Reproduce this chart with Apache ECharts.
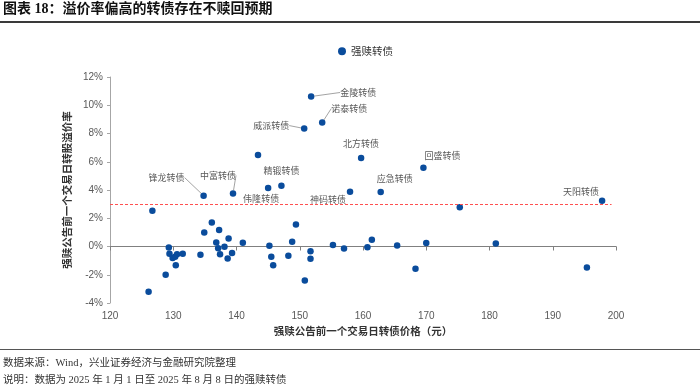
<!DOCTYPE html>
<html><head><meta charset="utf-8">
<script src="https://cdn.jsdelivr.net/npm/echarts@6/dist/echarts.min.js"></script>
<style>html,body{margin:0;padding:0;background:#fff}#c{width:700px;height:386px}</style>
</head><body><div id="c"></div>
<script>
// ---- data ----
const seriesName = '强赎转债';
const labeledNames = ['金陵转债','诺泰转债','威派转债','北方转债','回盛转债','应急转债','天阳转债','神码转债','精锻转债','伟隆转债','中富转债','锋龙转债'];
const labeledPrice = [151.8, 153.55, 150.7, 159.7, 169.55, 162.8, 197.8, 157.95, 147.1, 145.0, 139.45, 134.8];
const labeledPremium = [10.62, 8.77, 8.35, 6.27, 5.58, 3.86, 3.24, 3.88, 4.30, 4.14, 3.76, 3.60];
const otherPrice = [126.7, 129.3, 129.4, 129.9, 130.3, 130.6, 130.4, 131.5, 128.8, 126.1, 134.3, 134.9, 136.1, 137.25, 136.8, 137.1, 137.4, 138.1, 138.75, 138.6, 139.3, 141.0, 143.4, 145.2, 145.5, 145.8, 148.2, 148.8, 149.4, 150.8, 151.7, 151.7, 155.25, 157.0, 160.7, 161.4, 165.4, 168.3, 170.0, 175.3, 181.0, 195.4];
const otherPremium = [2.53, -0.07, -0.52, -0.82, -0.73, -0.55, -1.33, -0.52, -2.0, -3.21, -0.59, 0.99, 1.70, 1.16, 0.28, -0.13, -0.54, -0.02, 0.57, -0.85, -0.46, 0.26, 6.48, 0.06, -0.73, -1.33, -0.66, 0.33, 1.56, -2.41, -0.33, -0.87, 0.11, -0.14, -0.06, 0.48, 0.07, -1.58, 0.24, 2.77, 0.21, -1.49];
const thresholdValue = 3;
const thresholdXRange = [120, 199.3];
const xTicks = {min: 120, max: 200, interval: 10};
const yTicks = {min: -4, max: 12, interval: 2};
const xAxisName = '强赎公告前一个交易日转债价格（元）';
const yAxisName = '强赎公告前一个交易日转股溢价率';
const titleText = '图表 18：溢价率偏高的转债存在不赎回预期';
const sourceText = '数据来源：Wind，兴业证券经济与金融研究院整理';
const noteText = '说明：数据为 2025 年 1 月 1 日至 2025 年 8 月 8 日的强赎转债';

// ---- styling: label offsets (px) and whether a leader line is drawn ----
const labelStyle = {
  '金陵转债': [47, -4, true], '诺泰转债': [27, -14, true], '威派转债': [-33, -3, true],
  '北方转债': [0, -14, false], '回盛转债': [19, -12, false], '应急转债': [14, -13, false],
  '天阳转债': [-21, -9, false], '神码转债': [-22, 8, false], '精锻转债': [0, -15, false],
  '伟隆转债': [-7, 11, false], '中富转债': [-15, -18, true], '锋龙转债': [-37, -18, true]
};

const data = [];
labeledNames.forEach((n, i) => {
  data.push({name: n, value: [labeledPrice[i], labeledPremium[i]],
    label: {show: true}, labelLine: {show: labelStyle[n][2]}});
});
otherPrice.forEach((p, i) => data.push({name: '', value: [p, otherPremium[i]]}));

const chart = echarts.init(document.getElementById('c'), null, {renderer: 'canvas'});
const axisFont = "'Liberation Sans', Arial, sans-serif";
const cjk = "'Noto Sans CJK SC', sans-serif";
chart.setOption({
  animation: false,
  backgroundColor: '#fff',
  grid: {left: 110, right: 84, top: 77, bottom: 83},
  legend: {
    data: [seriesName], left: 333, top: 41, icon: 'circle', itemWidth: 8, itemHeight: 8,
    itemStyle: {opacity: 1},
    textStyle: {fontSize: 10.5, color: '#333', fontFamily: cjk}
  },
  xAxis: [{
    type: 'value', min: xTicks.min, max: xTicks.max, interval: xTicks.interval,
    axisLine: {show: false, onZero: false}, axisTick: {show: false}, splitLine: {show: false},
    axisLabel: {fontSize: 10, color: '#595959', margin: 8, fontFamily: axisFont},
    name: xAxisName, nameLocation: 'middle', nameGap: 22,
    nameTextStyle: {fontSize: 10.5, fontWeight: 'bold', color: '#333', fontFamily: cjk}
  }, {
    type: 'value', position: 'bottom', min: xTicks.min, max: xTicks.max, interval: xTicks.interval,
    axisLine: {show: true, onZero: true, lineStyle: {color: '#808080', width: 1}},
    axisTick: {show: true, length: 4, lineStyle: {color: '#808080'}},
    axisLabel: {show: false}, splitLine: {show: false}
  }],
  yAxis: {
    type: 'value', min: yTicks.min, max: yTicks.max, interval: yTicks.interval,
    axisLine: {show: true, lineStyle: {color: '#a6a6a6'}},
    axisTick: {show: true, length: 3, lineStyle: {color: '#a6a6a6'}},
    splitLine: {show: false},
    axisLabel: {fontSize: 10, color: '#595959', margin: 7, fontFamily: axisFont, formatter: v => v + '%'},
    name: yAxisName, nameLocation: 'middle', nameGap: 34, nameRotate: 90,
    nameTextStyle: {fontSize: 10.5, fontWeight: 'bold', color: '#333', fontFamily: cjk}
  },
  series: [{
    name: seriesName, type: 'scatter', xAxisIndex: 0, data: data,
    symbolSize: 6.5, itemStyle: {color: '#0a4c9c', opacity: 1},
    label: {show: false, position: 'inside', formatter: '{b}', fontSize: 9, color: '#595959', fontFamily: cjk},
    labelLine: {show: false, lineStyle: {color: '#8c8c8c', width: 0.8}},
    labelLayout: function (p) {
      const n = labeledNames[p.dataIndex];
      if (n === undefined) return {};
      const s = labelStyle[n];
      return {dx: s[0], dy: s[1]};
    },
    markLine: {
      silent: true, symbol: 'none', label: {show: false},
      lineStyle: {color: '#ff5050', type: [3, 2], width: 1},
      data: [[{coord: [thresholdXRange[0], thresholdValue]}, {coord: [thresholdXRange[1], thresholdValue]}]]
    }
  }],
  graphic: [
    {type: 'text', left: 3, top: 2, style: {text: titleText, font: "bold 14px 'Liberation Serif','Noto Sans CJK SC'", fill: '#111'}},
    {type: 'line', shape: {x1: 0, y1: 22, x2: 700, y2: 22}, style: {stroke: '#3a3a3a', lineWidth: 2}},
    {type: 'line', shape: {x1: 0, y1: 349.5, x2: 700, y2: 349.5}, style: {stroke: '#555', lineWidth: 1}},
    {type: 'text', left: 3, top: 358, style: {text: sourceText, font: "10.5px 'Liberation Serif','Noto Sans CJK SC'", fill: '#333'}},
    {type: 'text', left: 3, top: 375, style: {text: noteText, font: "10.5px 'Liberation Serif','Noto Sans CJK SC'", fill: '#333'}}
  ]
});
</script></body></html>
